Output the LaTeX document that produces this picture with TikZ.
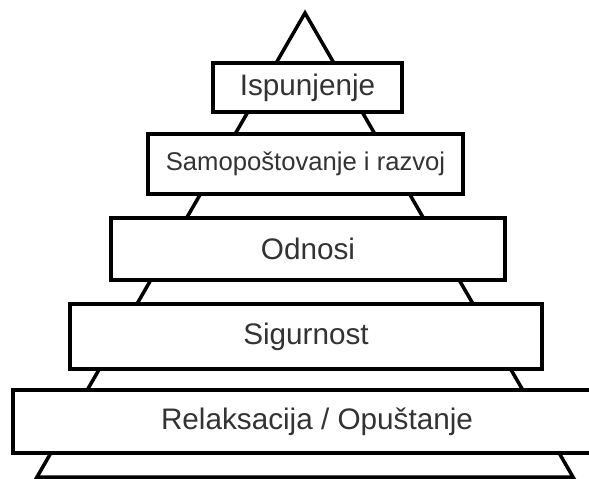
\documentclass[tikz,border=0pt]{standalone}
\usepackage{fontspec}
\setmainfont{Liberation Sans}

\begin{document}
\begin{tikzpicture}[x=0.02cm,y=-0.02cm,
  every node/.style={font=\fontsize{16.9}{20}\selectfont,text=black!80},
  level/.style={draw=black,fill=white,line width=2pt,inner sep=0pt}]
\clip (0,0) rectangle (589,478);
% pyramid outline
\coordinate (apex) at (305,13);
\coordinate (bl) at (37,477);
\coordinate (br) at (573,477);
\draw[line width=2pt,line join=miter] (apex) -- (bl) -- (br) -- cycle;
% levels, bottom to top
\node[level,minimum width=12.16cm,minimum height=1.26cm] (relax) at (317,421.5) {Relaksacija / Opuštanje};
\node[level,minimum width=9.44cm,minimum height=1.30cm] (sig) at (306,336.5) {Sigurnost};
\node[level,minimum width=7.88cm,minimum height=1.24cm] (odn) at (308,249) {Odnosi};
\node[level,minimum width=6.30cm,minimum height=1.20cm,font=\fontsize{14.6}{17}\selectfont] (samo) at (305.5,164) {Samopoštovanje i razvoj};
\node[level,minimum width=3.78cm,minimum height=0.98cm] (isp) at (307.5,87.5) {Ispunjenje};
\end{tikzpicture}
\end{document}
